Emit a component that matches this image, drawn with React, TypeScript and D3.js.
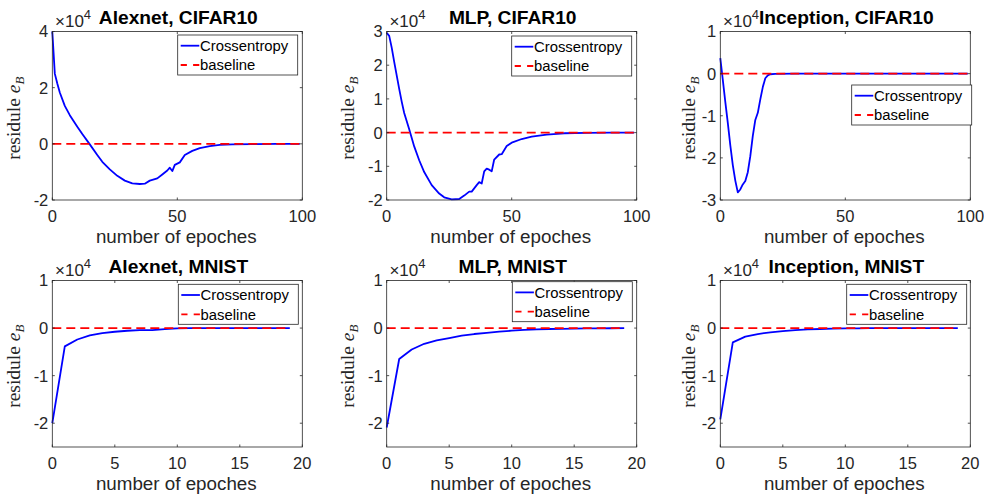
import React from "react";
import * as d3 from "d3";

// ---------- DATA (values in units of 1e4) ----------
const titles = [
  "Alexnet, CIFAR10",
  "MLP, CIFAR10",
  "Inception, CIFAR10",
  "Alexnet, MNIST",
  "MLP, MNIST",
  "Inception, MNIST",
];

const seriesNames = ["Crossentropy", "baseline"];

const topXTicks = [0, 50, 100];
const bottomXTicks = [0, 5, 10, 15, 20];

const alexCifarYTicks = [-2, 0, 2, 4];
const mlpCifarYTicks = [-2, -1, 0, 1, 2, 3];
const inceptionCifarYTicks = [-3, -2, -1, 0, 1];
const mnistYTicks = [-2, -1, 0, 1];

const alexCifarEpochs = [0, 1, 2, 3, 5, 7, 10, 12, 15, 18, 20, 23, 26, 29, 32, 35, 37, 39, 42, 44, 46, 47, 48, 49, 51, 53, 56, 59, 63, 67, 72, 80, 90, 99];
const alexCifarValues = [4.0, 2.5, 2.15, 1.83, 1.35, 1.02, 0.61, 0.35, -0.02, -0.4, -0.64, -0.91, -1.14, -1.31, -1.41, -1.43, -1.42, -1.31, -1.23, -1.09, -0.95, -0.85, -0.97, -0.75, -0.66, -0.4, -0.25, -0.15, -0.08, -0.04, -0.02, -0.01, -0.004, 0];

const mlpCifarEpochs = [0, 1, 2, 3, 5, 6, 7, 9, 11, 13, 15, 18, 21, 23, 26, 29, 31, 33, 34, 36, 37, 38, 39, 40, 41, 42, 43, 45, 46, 48, 50, 54, 58, 64, 71, 80, 90, 99];
const mlpCifarValues = [2.96, 2.87, 2.52, 2.1, 1.3, 0.92, 0.58, 0.1, -0.41, -0.82, -1.17, -1.56, -1.81, -1.92, -1.98, -1.97, -1.87, -1.75, -1.75, -1.56, -1.47, -1.51, -1.15, -1.07, -1.1, -1.15, -0.8, -0.65, -0.64, -0.4, -0.3, -0.19, -0.12, -0.06, -0.02, -0.01, -0.003, 0];

const inceptionCifarEpochs = [0, 1, 2, 3, 4, 5, 6, 7, 8, 9, 10, 11, 12, 13, 14, 15, 16, 17, 18, 19, 20, 22, 30, 99];
const inceptionCifarValues = [0.37, -0.15, -0.67, -1.17, -1.7, -2.17, -2.54, -2.82, -2.75, -2.63, -2.55, -2.34, -1.96, -1.48, -1.1, -0.93, -0.61, -0.32, -0.11, -0.04, -0.015, -0.005, 0, 0];

const mnistEpochs = [0, 1, 2, 3, 4, 5, 6, 7, 8, 9, 10, 11, 12, 13, 14, 15, 16, 17, 18, 19];
const alexMnistValues = [-2.0, -0.385, -0.24, -0.153, -0.105, -0.077, -0.056, -0.042, -0.044, -0.02, -0.005, -0.003, -0.002, -0.001, 0, 0, 0, 0, 0, 0];
const mlpMnistValues = [-2.09, -0.65, -0.45, -0.33, -0.26, -0.21, -0.16, -0.125, -0.1, -0.076, -0.055, -0.04, -0.028, -0.02, -0.015, -0.01, -0.007, -0.005, -0.004, -0.003];
const inceptionMnistValues = [-1.92, -0.3, -0.18, -0.125, -0.09, -0.063, -0.042, -0.028, -0.02, -0.012, -0.008, -0.005, -0.003, -0.002, -0.001, 0, 0, 0, 0, 0];

const baselineValue = 0;

// ---------- LAYOUT ----------
const W = 984;
const H = 495;
const PW = 250;
const lefts = [52.3, 386.7, 720.3];
const ylabelOffsets = [39, 40, 32];
const rows = [
  { top: 31.5, bottom: 200 },
  { top: 280.5, bottom: 447 },
];
const AX = "#262626";
const SANS = "'Liberation Sans', Arial, Helvetica, sans-serif";
const SERIF = "'Liberation Serif', 'Times New Roman', serif";
const TICK_FS = 16.5;
const LABEL_FS = 18.8;
const TITLE_FS = 19.2;
const LEG_FS = 14.85;

type PanelSpec = {
  title: string;
  col: number;
  row: number;
  xDomain: [number, number];
  yDomain: [number, number];
  xTicks: number[];
  yTicks: number[];
  xs: number[];
  ys: number[];
  legend: { x: number; y: number };
};

const panels: PanelSpec[] = [
  { title: titles[0], col: 0, row: 0, xDomain: [0, 100], yDomain: [-2, 4], xTicks: topXTicks, yTicks: alexCifarYTicks, xs: alexCifarEpochs, ys: alexCifarValues, legend: { x: 177.7, y: 35 } },
  { title: titles[1], col: 1, row: 0, xDomain: [0, 100], yDomain: [-2, 3], xTicks: topXTicks, yTicks: mlpCifarYTicks, xs: mlpCifarEpochs, ys: mlpCifarValues, legend: { x: 511.7, y: 36 } },
  { title: titles[2], col: 2, row: 0, xDomain: [0, 100], yDomain: [-3, 1], xTicks: topXTicks, yTicks: inceptionCifarYTicks, xs: inceptionCifarEpochs, ys: inceptionCifarValues, legend: { x: 851.7, y: 85 } },
  { title: titles[3], col: 0, row: 1, xDomain: [0, 20], yDomain: [-2.5, 1], xTicks: bottomXTicks, yTicks: mnistYTicks, xs: mnistEpochs, ys: alexMnistValues, legend: { x: 178.3, y: 284.3 } },
  { title: titles[4], col: 1, row: 1, xDomain: [0, 20], yDomain: [-2.5, 1], xTicks: bottomXTicks, yTicks: mnistYTicks, xs: mnistEpochs, ys: mlpMnistValues, legend: { x: 512.3, y: 281.7 } },
  { title: titles[5], col: 2, row: 1, xDomain: [0, 20], yDomain: [-2.5, 1], xTicks: bottomXTicks, yTicks: mnistYTicks, xs: mnistEpochs, ys: inceptionMnistValues, legend: { x: 846.7, y: 284.3 } },
];

function Panel({ p }: { p: PanelSpec }) {
  const left = lefts[p.col];
  const right = left + PW;
  const { top, bottom } = rows[p.row];
  const x = d3.scaleLinear().domain(p.xDomain).range([left, right]);
  const y = d3.scaleLinear().domain(p.yDomain).range([bottom, top]);
  const pts: [number, number][] = p.xs.map((v, i) => [v, p.ys[i]]);
  const line = d3
    .line<[number, number]>()
    .x((d) => x(d[0]))
    .y((d) => y(d[1]));
  const xMaxData = p.xs[p.xs.length - 1];
  const basePts: [number, number][] = [
    [p.xs[0], baselineValue],
    [xMaxData, baselineValue],
  ];
  const tl = 2.5;
  const cx = (left + right) / 2;
  const cy = (top + bottom) / 2;
  const lg = p.legend;
  return (
    <g>
      <rect x={left} y={top} width={PW} height={bottom - top} fill="#fff" />
      <path d={line(pts) || ""} fill="none" stroke="#0000ff" strokeWidth={1.8} strokeLinejoin="round" />
      <path d={line(basePts) || ""} fill="none" stroke="#ff0000" strokeWidth={1.8} strokeDasharray="9,5" />
      {/* axes box */}
      <rect x={left} y={top} width={PW} height={bottom - top} fill="none" stroke={AX} strokeWidth={0.8} />
      {p.xTicks.map((t) => (
        <g key={"xt" + t}>
          <line x1={x(t)} x2={x(t)} y1={bottom} y2={bottom - tl} stroke={AX} strokeWidth={0.8} />
          <line x1={x(t)} x2={x(t)} y1={top} y2={top + tl} stroke={AX} strokeWidth={0.8} />
          <text x={x(t)} y={bottom + 22} textAnchor="middle" fontSize={TICK_FS} fill={AX} fontFamily={SANS}>
            {t}
          </text>
        </g>
      ))}
      {p.yTicks.map((t) => (
        <g key={"yt" + t}>
          <line x1={left} x2={left + tl} y1={y(t)} y2={y(t)} stroke={AX} strokeWidth={0.8} />
          <line x1={right} x2={right - tl} y1={y(t)} y2={y(t)} stroke={AX} strokeWidth={0.8} />
          <text x={left - 4} y={y(t)} dy="0.36em" textAnchor="end" fontSize={TICK_FS} fill={AX} fontFamily={SANS}>
            {t}
          </text>
        </g>
      ))}
      {/* exponent */}
      <text x={left + 2.7} y={top - 4.8} fontSize={17} fill={AX} fontFamily={SANS}>
        ×10
        <tspan dy={-7.5} fontSize={13}>4</tspan>
      </text>
      {/* title */}
      <text x={cx + 1} y={top - 8} textAnchor="middle" fontSize={TITLE_FS} fontWeight="bold" fill="#000" fontFamily={SANS}>
        {p.title}
      </text>
      {/* x label */}
      <text x={cx - 1} y={bottom + 43} textAnchor="middle" fontSize={LABEL_FS} fill={AX} fontFamily={SANS}>
        number of epoches
      </text>
      {/* y label */}
      <text
        transform={`translate(${left - ylabelOffsets[p.col]},${cy + 2.5}) rotate(-90)`}
        textAnchor="middle"
        dy="0.35em"
        fontSize={19.5}
        fill={AX}
        fontFamily={SERIF}
      >
        residule{" "}
        <tspan fontStyle="italic">e</tspan>
        <tspan fontStyle="italic" fontSize={13} dy={4}>
          B
        </tspan>
      </text>
      {/* legend */}
      <g>
        <rect x={lg.x} y={lg.y} width={120} height={40} fill="#fff" stroke={AX} strokeWidth={0.8} />
        <line x1={lg.x + 3} x2={lg.x + 21.6} y1={lg.y + 10.7} y2={lg.y + 10.7} stroke="#0000ff" strokeWidth={1.8} />
        <line x1={lg.x + 3} x2={lg.x + 21.6} y1={lg.y + 30} y2={lg.y + 30} stroke="#ff0000" strokeWidth={1.8} strokeDasharray="6.2,6.2" />
        <text x={lg.x + 22.3} y={lg.y + 10.7} dy="0.36em" fontSize={LEG_FS} fill="#000" fontFamily={SANS}>
          {seriesNames[0]}
        </text>
        <text x={lg.x + 22.3} y={lg.y + 30} dy="0.36em" fontSize={LEG_FS} fill="#000" fontFamily={SANS}>
          {seriesNames[1]}
        </text>
      </g>
    </g>
  );
}

export default function App() {
  return (
    <svg
      width={W}
      height={H}
      viewBox={`0 0 ${W} ${H}`}
      style={{ position: "absolute", left: 0, top: 0, background: "#fff" }}
    >
      <rect x={0} y={0} width={W} height={H} fill="#fff" />
      {panels.map((p, i) => (
        <Panel key={i} p={p} />
      ))}
    </svg>
  );
}
